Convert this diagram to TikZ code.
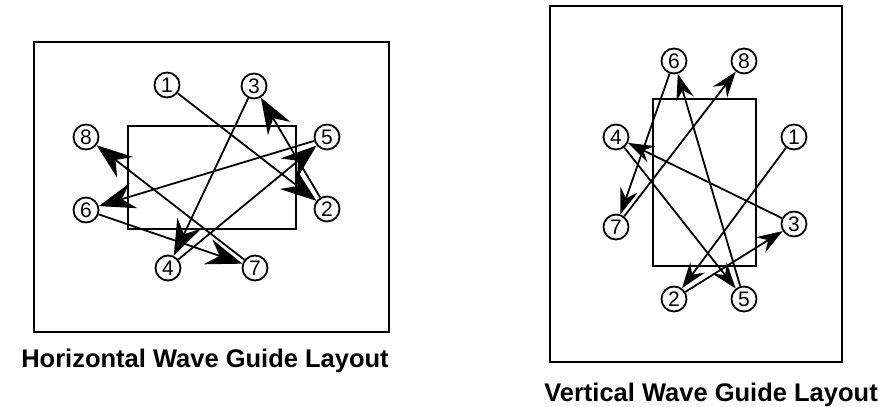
\documentclass[tikz,border=0pt]{standalone}
\usepackage{fontspec}
\setmainfont{Liberation Sans}
\usetikzlibrary{arrows.meta}
\begin{document}
\begin{tikzpicture}[x=1pt,y=-1pt,line width=1.8pt,
  num/.style={circle,draw,fill=white,minimum size=25pt,inner sep=0pt,font=\fontsize{21}{21}\selectfont},
  bigarrow/.style={-{Stealth[length=36pt,width=26pt,inset=12pt]}},
  smallarrow/.style={-{Stealth[length=26pt,width=18pt,inset=9pt]}},
  title/.style={anchor=base,font=\fontsize{25.5}{30}\selectfont\bfseries}]
\useasboundingbox (0,0) rectangle (879,407);
% left panel
\draw (34,42) rectangle (389,332);
\draw (128,126) rectangle (296,229);
\node[num] (L1) at (167,85) {1};
\node[num] (L3) at (254,86) {3};
\node[num] (L8) at (86,137) {8};
\node[num] (L5) at (327,137) {5};
\node[num] (L6) at (86,210) {6};
\node[num] (L2) at (327,209) {2};
\node[num] (L4) at (168,268) {4};
\node[num] (L7) at (255,268) {7};
\draw[bigarrow] (L1) -- (L2);
\draw[bigarrow] (L2) -- (L3);
\draw[bigarrow] (L3) -- (L4);
\draw[bigarrow] (L4) -- (L5);
\draw[bigarrow] (L5) -- (L6);
\draw[bigarrow] (L6) -- (L7);
\draw[bigarrow] (L7) -- (L8);
\node[title] (LT) at (205,367) {Horizontal Wave Guide Layout};
% right panel
\draw (550,6) rectangle (842,362);
\draw (653,99) rectangle (756,266);
\node[num] (R6) at (674,61) {6};
\node[num] (R8) at (744,61) {8};
\node[num] (R4) at (616,137) {4};
\node[num] (R1) at (794,137) {1};
\node[num] (R7) at (616,227) {7};
\node[num] (R3) at (794,224) {3};
\node[num] (R2) at (674,299) {2};
\node[num] (R5) at (744,299) {5};
\draw[smallarrow] (R1) -- (R2);
\draw[smallarrow] (R2) -- (R3);
\draw[smallarrow] (R3) -- (R4);
\draw[smallarrow] (R4) -- (R5);
\draw[smallarrow] (R5) -- (R6);
\draw[smallarrow] (R6) -- (R7);
\draw[smallarrow] (R7) -- (R8);
\node[title] (RT) at (711,401) {Vertical Wave Guide Layout};
\end{tikzpicture}
\end{document}
